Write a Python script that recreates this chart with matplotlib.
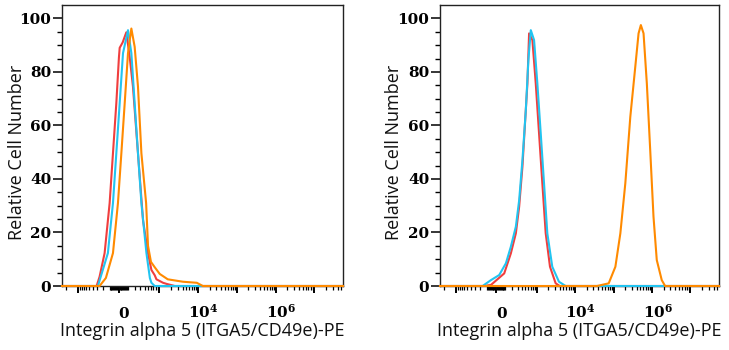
#!/usr/bin/env python3
import matplotlib
matplotlib.use("Agg")
import matplotlib.pyplot as plt
import matplotlib.transforms as mtransforms
import numpy as np


RED = "#F03E3E"
CYAN = "#22C4F0"
ORANGE = "#FF8A00"

LIN_W = 180.0          # linear width of the arcsinh (biexponential-like) axis
X_MIN, X_MAX = -2600, 5.5e7

# left panel: intensity / relative cell number
left_red_x = [X_MIN, -309, -250, -168, -101, -62, -25, 3, 11, 43, 85, 126, 172, 255, 361, 499, 617, 757, 839, 1250, 1534, 2520, X_MAX]
left_red_y = [0, 0, 3.5, 12.3, 31, 49.6, 68.3, 85.5, 89, 91, 94.8, 85.7, 74.5, 49.6, 24.6, 12.2, 6, 4, 2.5, 1.2, 0.8, 0, 0]

left_cyan_x = [X_MIN, -282, -123, -62, -25, 11, 47, 105, 149, 198, 255, 324, 451, 560, 617, 757, X_MAX]
left_cyan_y = [0, 0, 12.3, 31, 49.6, 68.3, 87, 95.6, 87, 68.3, 49.6, 31, 12.3, 3, 1.2, 0, 0]

left_orange_x = [X_MIN, -250, -150, -62, -7.5, 29, 66, 105, 149, 198, 255, 324, 442, 499, 600, 757, 1026, 1658, 4060, 9340, 13360, X_MAX]
left_orange_y = [0, 0, 3, 12.3, 31, 49.6, 68.3, 87, 96.2, 89.4, 74.5, 49.6, 31, 15, 9, 7, 4.5, 2.5, 1.6, 1.2, 0, 0]

# right panel
right_red_x = [X_MIN, -150, -58, 89, 178, 263, 331, 412, 480, 566, 629, 771, 947, 1157, 1411, 1728, 2236, 3141, 4000, X_MAX]
right_red_y = [0, 0, 0.4, 4.7, 12.2, 19.7, 29.6, 44.6, 59.5, 75.7, 94.4, 91.9, 75.7, 57, 38.4, 19.7, 7.2, 1, 0, 0]

right_cyan_x = [X_MIN, -164, -58, 32, 110, 178, 263, 331, 412, 512, 602, 699, 855, 1044, 1281, 1562, 1904, 2565, 3825, 5700, X_MAX]
right_cyan_y = [0, 0, 2.2, 4.1, 8.5, 14.7, 22.2, 32, 47, 65.7, 84.4, 95.6, 91.9, 75.7, 57, 38.4, 19.7, 7.2, 1.6, 0, 0]

right_orange_x = [X_MIN, 37400, 75060, 111900, 150700, 202800, 273100, 367700, 447700, 513400, 603000, 734100, 898200, 1093500, 1330000, 1792000, 2192000, X_MAX]
right_orange_y = [0, 0, 1, 7.2, 19.7, 38.4, 63.2, 81.9, 94.4, 97.5, 94.4, 75.7, 50.8, 25.9, 9.7, 2.2, 0, 0]

x_major = [-1e3, 0, 1e3, 1e4, 1e5, 1e6, 1e7]
x_major_labels = ["", r"$\mathbf{0}$", "", r"$\mathbf{10^{4}}$", "", r"$\mathbf{10^{6}}$", ""]
y_major = [0, 20, 40, 60, 80, 100]

X_LABEL = "Integrin alpha 5 (ITGA5/CD49e)-PE"
Y_LABEL = "Relative Cell Number"


def fwd(v):
    return np.arcsinh(np.asarray(v, dtype=float) / LIN_W)


def inv(d):
    return LIN_W * np.sinh(np.asarray(d, dtype=float))


def x_minor_ticks():
    ticks = []
    for n in (1, 2):
        for k in range(1, 10):
            if k * 10**n not in x_major:
                ticks += [k * 10**n, -k * 10**n]
    ticks.append(-2000)
    for n in range(3, 8):
        for k in range(2, 10):
            ticks.append(k * 10**n)
    return [t for t in ticks if X_MIN < t < X_MAX]


def style_axes(ax, fig, ylabel_x):
    ax.set_xscale("function", functions=(fwd, inv))
    ax.set_xlim(X_MIN, X_MAX)
    ax.set_ylim(0, 105)

    ax.set_xticks(x_major, labels=x_major_labels)
    ax.set_xticks(x_minor_ticks(), minor=True)
    ax.set_yticks(y_major)
    ax.set_yticks(np.arange(0, 105, 5), minor=True)

    ax.tick_params(axis="x", which="major", direction="out", length=5, width=1.4,
                   pad=18, labelsize=11, top=False)
    ax.tick_params(axis="x", which="minor", direction="out", length=3, width=0.9, top=False)
    ax.tick_params(axis="y", which="major", direction="out", length=6.3, width=1.1,
                   pad=1.5, labelsize=11, right=False)
    ax.tick_params(axis="y", which="minor", direction="out", length=3.4, width=1.0, right=False)

    offset = mtransforms.ScaledTranslation(4 / 72, 0, fig.dpi_scale_trans)
    for lab in ax.get_xticklabels():
        lab.set_va("baseline")
        lab.set_transform(lab.get_transform() + offset)
    for lab in ax.get_yticklabels():
        lab.set_fontfamily("DejaVu Serif")
        lab.set_fontweight("bold")

    for sp in ax.spines.values():
        sp.set_linewidth(1.0)
        sp.set_color("#222222")

    ax.set_xlabel(X_LABEL, fontsize=13, fontfamily="Open Sans", color="#111111")
    ax.set_ylabel(Y_LABEL, fontsize=13, fontfamily="Open Sans", color="#111111")
    ax.xaxis.set_label_coords(0.5, -0.128)
    ax.yaxis.set_label_coords(ylabel_x, 0.477)


def main():
    fig = plt.figure(figsize=(7.29, 3.5), dpi=100)
    ax1 = fig.add_axes([62 / 729, 64 / 350, 281 / 729, 281 / 350])
    ax2 = fig.add_axes([440 / 729, 64 / 350, 279 / 729, 281 / 350])

    kw = dict(linewidth=1.5, clip_on=False, zorder=3)
    ax1.plot(left_red_x, left_red_y, color=RED, **kw)
    ax1.plot(left_cyan_x, left_cyan_y, color=CYAN, **kw)
    ax1.plot(left_orange_x, left_orange_y, color=ORANGE, **kw)

    ax2.plot(right_red_x, right_red_y, color=RED, **kw)
    ax2.plot(right_cyan_x, right_cyan_y, color=CYAN, **kw)
    ax2.plot(right_orange_x, right_orange_y, color=ORANGE, **kw)

    style_axes(ax1, fig, -0.128)
    style_axes(ax2, fig, -0.133)

    fig.savefig("out.png", dpi=100)


if __name__ == "__main__":
    plt.rcParams.update({
        "mathtext.fontset": "dejavuserif",
        "font.family": "DejaVu Serif",
    })
    main()
